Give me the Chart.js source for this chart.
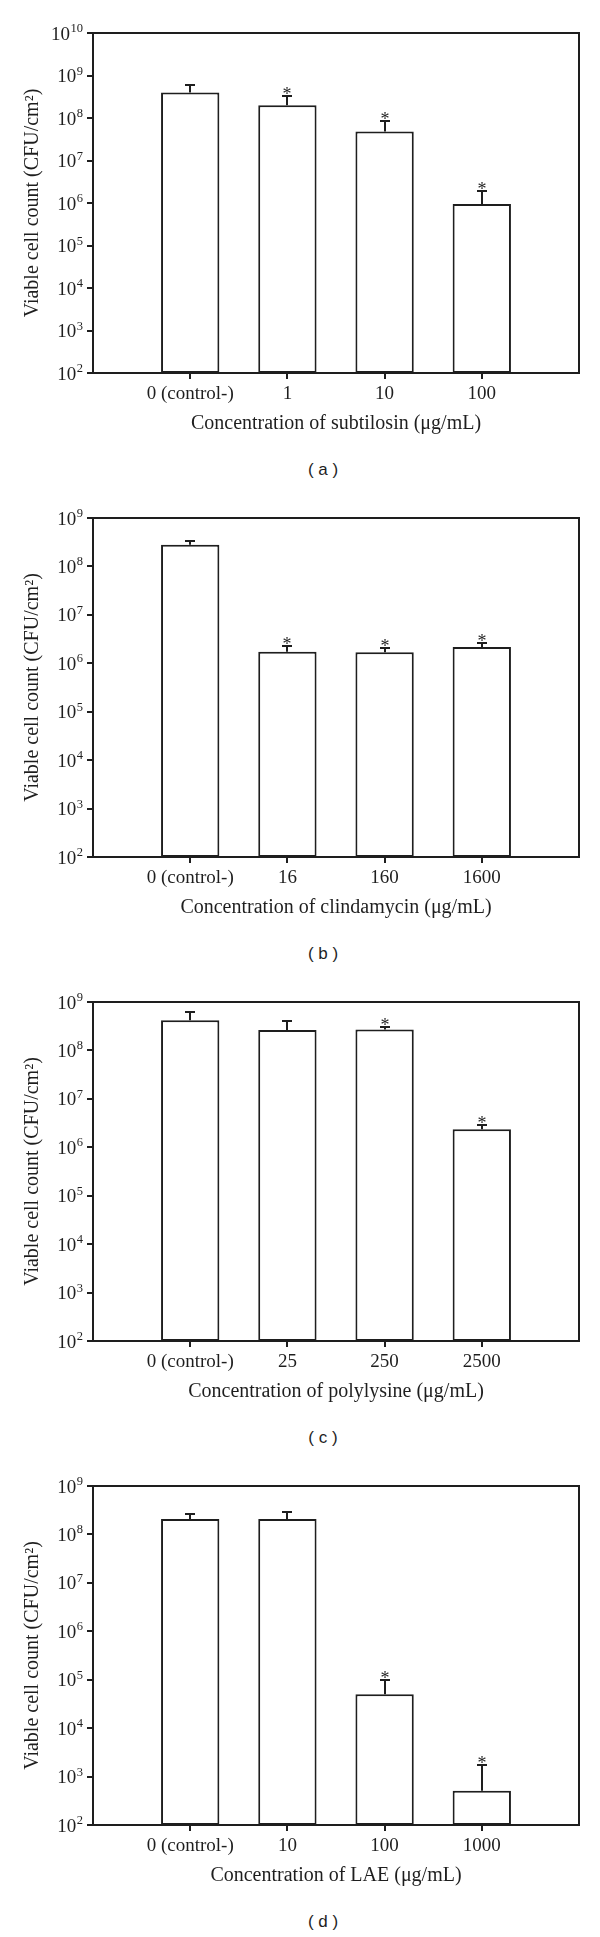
<!DOCTYPE html>
<html>
<head>
<meta charset="utf-8">
<script src="https://cdn.jsdelivr.net/npm/chart.js@4.4.1/dist/chart.umd.min.js"></script>
<style>
  html, body { margin: 0; padding: 0; background: #fff; }
  .panel { position: relative; width: 600px; height: 484px; }
  .panel.last { height: 485px; }
  canvas { display: block; }
  .tag {
    position: absolute; left: 0; top: 452px; width: 600px; height: 36px;
    padding-left: 46px; box-sizing: border-box; text-align: center;
    font: 17px 'Liberation Sans', Arial, sans-serif; line-height: 36px; color: #1e1e1e;
  }
</style>
</head>
<body>
<div class="panel"><canvas id="chA" width="600" height="452"></canvas><div class="tag">( a )</div></div>
<div class="panel"><canvas id="chB" width="600" height="452"></canvas><div class="tag">( b )</div></div>
<div class="panel"><canvas id="chC" width="600" height="452"></canvas><div class="tag">( c )</div></div>
<div class="panel last"><canvas id="chD" width="600" height="452"></canvas><div class="tag">( d )</div></div>
<script>
// Viable cell counts (CFU/cm2): bar = mean, err = top of the (upper) error bar

// (a) subtilosin
const catsA  = ['0 (control-)', '1', '10', '100'];
const meanA  = [4.0e8, 2.0e8, 4.8e7, 9.5e5];
const errA   = [6.0e8, 3.3e8, 8.7e7, 1.95e6];
const starA  = [0, 1, 1, 1];
const expsA  = [2, 3, 4, 5, 6, 7, 8, 9, 10];

// (b) clindamycin
const catsB  = ['0 (control-)', '16', '160', '1600'];
const meanB  = [2.8e8, 1.74e6, 1.7e6, 2.18e6];
const errB   = [3.3e8, 2.24e6, 2.03e6, 2.57e6];
const starB  = [0, 1, 1, 1];
const expsB  = [2, 3, 4, 5, 6, 7, 8, 9];

// (c) polylysine
const catsC  = ['0 (control-)', '25', '250', '2500'];
const meanC  = [4.2e8, 2.63e8, 2.7e8, 2.35e6];
const errC   = [6.1e8, 4.1e8, 3.1e8, 2.9e6];
const starC  = [0, 0, 1, 1];
const expsC  = [2, 3, 4, 5, 6, 7, 8, 9];

// (d) LAE
const catsD  = ['0 (control-)', '10', '100', '1000'];
const meanD  = [2.08e8, 2.08e8, 5.0e4, 5.1e2];
const errD   = [2.7e8, 2.9e8, 1.0e5, 1.7e3];
const starD  = [0, 0, 1, 1];
const expsD  = [2, 3, 4, 5, 6, 7, 8, 9];

const INK   = '#1e1e1e';
const SERIF = "'Liberation Serif', 'Times New Roman', serif";
const LW    = 2;

Chart.defaults.font.family = SERIF;
Chart.defaults.font.size   = 19;
Chart.defaults.color       = INK;

// error bars, stars, closed frame and "10^n" tick labels with a real raised exponent
function extras(mean, err, star, exps) {
  return {
    id: 'extras',
    afterDatasetsDraw(chart) {
      const { ctx, chartArea: a, scales: { x, y } } = chart;
      ctx.save();
      ctx.strokeStyle = INK;
      ctx.fillStyle = INK;
      ctx.lineWidth = LW;
      ctx.textAlign = 'center';
      ctx.font = '18px ' + SERIF;
      mean.forEach((m, i) => {
        const px = Math.round(x.getPixelForValue(i + 1));
        const y0 = y.getPixelForValue(m);
        const y1 = Math.round(y.getPixelForValue(err[i]));
        ctx.beginPath();
        ctx.moveTo(px, y0); ctx.lineTo(px, y1);
        ctx.moveTo(px - 5, y1); ctx.lineTo(px + 5, y1);
        ctx.stroke();
        if (star[i]) ctx.fillText('*', px, y1 + 4);
      });
      ctx.strokeRect(a.left, a.top, a.right - a.left, a.bottom - a.top);

      // y tick labels
      const right = y.right - 10;
      ctx.textAlign = 'right';
      ctx.textBaseline = 'alphabetic';
      exps.forEach(e => {
        const py = y.getPixelForValue(10 ** e);
        const base = py + 6.5;
        ctx.font = '12.5px ' + SERIF;
        const sup = String(e);
        const w = ctx.measureText(sup).width;
        ctx.fillText(sup, right, base - 7.5);
        ctx.font = '19px ' + SERIF;
        ctx.fillText('10', right - w - 0.5, base);
      });
      ctx.restore();
    },
  };
}

function panel(id, { cats, mean, err, star, exps, xTitle, top }) {
  const labels = ['', ...cats, ''];
  const last = labels.length - 1;
  return new Chart(document.getElementById(id), {
    type: 'bar',
    data: {
      labels,
      datasets: [{
        data: [null, ...mean, null],
        backgroundColor: '#ffffff',
        borderColor: INK,
        borderWidth: LW,
        borderSkipped: false,
        categoryPercentage: 1,
        barPercentage: 0.6,
      }],
    },
    options: {
      responsive: false, animation: false, devicePixelRatio: 1,
      events: [],
      layout: { padding: { top, right: 21, left: 0, bottom: 0 } },
      plugins: { legend: { display: false }, tooltip: { enabled: false } },
      scales: {
        x: {
          offset: false,
          border: { display: false },
          grid: {
            offset: false, drawOnChartArea: false, tickLength: 6, lineWidth: LW,
            color: c => (c.index === 0 || c.index === last) ? 'rgba(0,0,0,0)' : INK,
          },
          ticks: { color: INK, padding: 4, maxRotation: 0, autoSkip: false },
          title: { display: true, text: xTitle, color: INK, font: { size: 20 }, padding: { top: 0, bottom: 16.5 } },
          afterFit: s => { s.height = 452 - 373; },
        },
        y: {
          type: 'logarithmic',
          min: 10 ** exps[0],
          max: 10 ** exps[exps.length - 1],
          border: { display: false },
          grid: { drawOnChartArea: false, tickLength: 6, lineWidth: LW, color: INK },
          afterBuildTicks: s => { s.ticks = exps.map(e => ({ value: 10 ** e })); },
          ticks: { display: false },
          title: { display: true, text: 'Viable cell count (CFU/cm²)', color: INK, font: { size: 20 }, padding: { top: 21, bottom: 0 } },
          afterFit: s => { s.width = 93; },
        },
      },
    },
    plugins: [extras(mean, err, star, exps)],
  });
}

panel('chA', { cats: catsA, mean: meanA, err: errA, star: starA, exps: expsA, top: 33, xTitle: 'Concentration of subtilosin (μg/mL)' });
panel('chB', { cats: catsB, mean: meanB, err: errB, star: starB, exps: expsB, top: 34, xTitle: 'Concentration of clindamycin (μg/mL)' });
panel('chC', { cats: catsC, mean: meanC, err: errC, star: starC, exps: expsC, top: 34, xTitle: 'Concentration of polylysine (μg/mL)' });
panel('chD', { cats: catsD, mean: meanD, err: errD, star: starD, exps: expsD, top: 34, xTitle: 'Concentration of LAE (μg/mL)' });
</script>
</body>
</html>
